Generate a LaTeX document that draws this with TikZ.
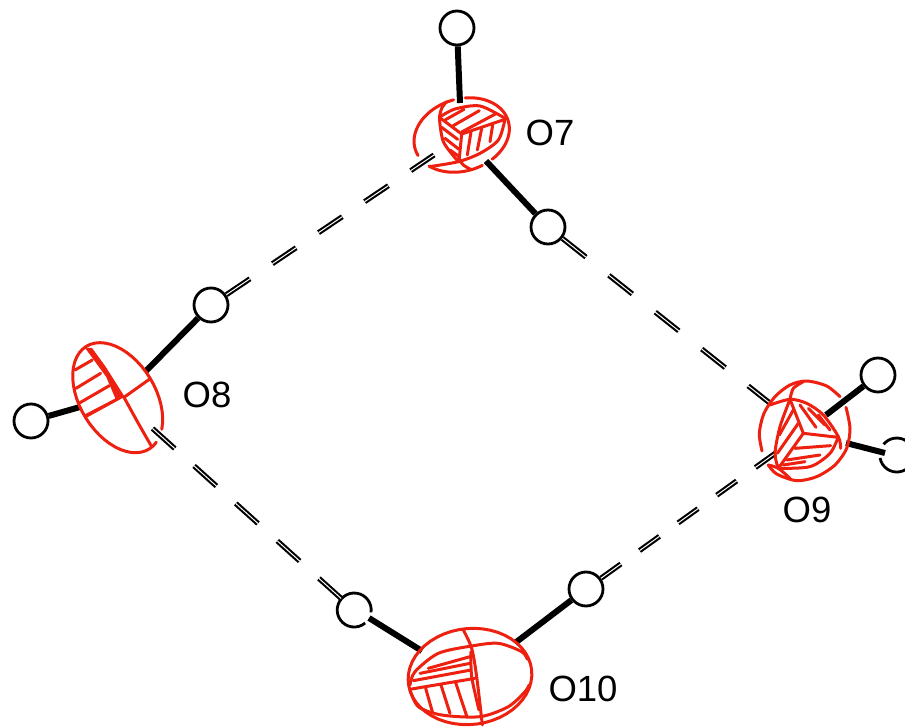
\documentclass[tikz,border=0pt]{standalone}
\usepackage{fontspec}
\setmainfont{Liberation Sans}
\definecolor{ored}{RGB}{238,32,16}
\tikzset{
  hatom/.style={circle,draw=black,line width=2.8pt,fill=white,minimum size=34pt,inner sep=0pt},
  hopen/.style={circle,minimum size=34pt,inner sep=0pt},
  bondline/.style={draw=black,line width=6pt},
  hbond/.style 2 args={draw=black,line width=2.1pt,double=white,double distance=1pt,dash pattern=on #1pt off #2pt},
  rl/.style={draw=ored,line width=3pt,line join=round,line cap=round},
  rthick/.style={fill=ored,draw=ored,line width=1pt,line join=round},
  label/.style={font=\fontsize{36.5}{37}\selectfont,inner sep=0pt,text=black},
  zoomed/.style={x=.33333pt,y=-.33333pt}
}
\newcommand{\redarc}[7]{\draw[rl,shift={(#1,#2)},rotate=#5] plot[domain=#6:#7,samples=50] ({#3*cos(\x)},{-#4*sin(\x)});}
\newcommand{\sm}[1]{\draw[rl] plot[smooth] coordinates {#1};}
\begin{document}
\begin{tikzpicture}[x=1pt,y=-1pt]
\useasboundingbox (0,0) rectangle (905,727);
\clip (0,0) rectangle (905,727);

% hydrogen atoms
\node[hatom] (H1) at (457,28) {};
\node[hatom] (H2) at (548,227) {};
\node[hatom] (H3) at (211,305) {};
\node[hatom] (H4) at (31,421) {};
\node[hatom] (H5) at (878,375) {};
\node[hopen] (H6) at (897,455) {};
\node[hopen] (H7) at (354,610) {};
\node[hatom] (H8) at (586,589) {};
\draw[black,line width=2.8pt] (H6.190) arc[start angle=190,end angle=501,radius=17pt];
\draw[black,line width=2.8pt] (H7.-8) arc[start angle=-8,end angle=310,radius=17pt];

% bond ends at the oxygen atoms
\coordinate (a1) at (460,103);
\coordinate (a2) at (486,161);
\coordinate (a3) at (145,372);
\coordinate (a4) at (80,407);
\coordinate (a5) at (826,415);
\coordinate (a6) at (846,443);
\coordinate (a7) at (422,651);
\coordinate (a8) at (515,643);
\coordinate (b6) at (885,453);
\coordinate (b7) at (369,618);
\coordinate (d3) at (434,155);
\coordinate (d2) at (771,404);
\coordinate (d7) at (152,428);
\coordinate (d8) at (777,452);

% covalent bonds
\draw[bondline] (H1) -- (a1);
\draw[bondline] (H2) -- (a2);
\draw[bondline] (H3) -- (a3);
\draw[bondline] (H4) -- (a4);
\draw[bondline] (H5) -- (a5);
\draw[bondline] (b6) -- (a6);
\draw[bondline] (b7) -- (a7);
\draw[bondline] (H8) -- (a8);

% hydrogen bonds
\draw[hbond={28.6}{27}] (H3) -- (d3);
\draw[hbond={30}{29.3}] (H2) -- (d2);
\draw[hbond={30}{26}] (H7) -- (d7);
\draw[hbond={24.5}{23}] (H8) -- (d8);

% O7
\redarc{461.7}{135}{48.6}{36}{17}{87}{191}
\redarc{461.7}{135}{48.6}{36}{17}{214}{283}
\redarc{461.7}{135}{48.6}{36}{17}{297}{433}
\begin{scope}[shift={(390,70)},zoomed]
\sm{(148,142) (195,117) (270,108) (345,145)}
\sm{(148,142) (160,215) (205,275)}
\sm{(345,148) (325,210) (270,250) (205,275) (118,290)}
\sm{(148,142) (155,115) (170,95)}
\sm{(205,265) (220,285) (242,298)}
\draw[rl] (148,142) -- (215,192) -- (345,148);
\draw[rl] (215,192) -- (207,275);
\draw[rl] (165,150) -- (222,118);
\draw[rl] (188,168) -- (268,122);
\draw[rl] (215,186) -- (318,131);
\draw[rl] (155,172) -- (203,208);
\draw[rl] (165,205) -- (207,238);
\draw[rl] (180,240) -- (205,258);
\draw[rl] (243,185) -- (232,255);
\draw[rl] (275,175) -- (262,240);
\draw[rl] (308,165) -- (300,215);
\end{scope}

% O8
\redarc{117.7}{397.7}{60.2}{37.8}{121.4}{214}{555}
\begin{scope}[shift={(50,320)},zoomed]
\fill[rthick] (108,85) -- (125,85) -- (165,140) -- (222,230) -- (107,293) -- (104,285) -- (198,236) -- (170,170) -- cycle;
\draw[rl] (222,232) -- (298,178);
\sm{(222,232) (265,310) (305,380)}
\draw[rl] (75,150) -- (127,120);
\draw[rl] (78,205) -- (152,160);
\draw[rl] (90,248) -- (178,197);
\end{scope}

% O9
\begin{scope}[shift={(740,350)},zoomed]
\sm{(300,140) (260,108) (200,93) (150,105) (105,140) (72,190) (58,250) (66,303)}
\sm{(85,345) (110,372) (170,392) (230,380) (285,345) (320,295) (330,235) (318,172)}
\sm{(90,165) (150,148) (200,160) (250,195) (295,260) (302,295)}
\sm{(150,148) (120,230) (105,310) (115,355)}
\sm{(295,260) (270,310) (210,350) (115,355)}
\sm{(150,148) (160,115) (190,95)}
\sm{(85,345) (115,355) (150,385)}
\draw[rl] (150,148) -- (190,250) -- (295,262);
\draw[rl] (190,250) -- (115,355);
\draw[rl] (180,165) -- (228,232);
\draw[rl] (205,175) -- (255,225);
\draw[rl] (235,195) -- (270,240);
\draw[rl] (160,180) -- (118,255);
\draw[rl] (175,220) -- (112,310);
\draw[rl] (165,295) -- (272,287);
\draw[rl] (140,330) -- (240,315);
\draw[rl] (130,345) -- (195,335);
\end{scope}

% O10
\redarc{470}{676.5}{62}{48}{6}{0}{360}
\begin{scope}[shift={(395,610)},zoomed]
\sm{(205,60) (230,115) (245,200) (262,345)}
\sm{(228,125) (230,200) (252,300)}
\sm{(45,225) (60,185) (130,130) (230,108) (310,100) (380,125) (397,148)}
\sm{(45,240) (70,290) (140,315) (255,320) (340,290) (390,245) (402,225)}
\draw[rl] (50,237) -- (240,205);
\draw[rl] (100,175) -- (225,140);
\draw[rl] (75,190) -- (225,160);
\draw[rl] (55,212) -- (228,180);
\draw[rl] (92,235) -- (112,305);
\draw[rl] (138,225) -- (165,310);
\draw[rl] (182,218) -- (215,318);
\end{scope}

% labels
\node[label] (L7) at (550,133) {O7};
\node[label] (L8) at (207,395) {O8};
\node[label] (L9) at (807,510) {O9};
\node[label] (L10) at (583,689) {O10};
\end{tikzpicture}
\end{document}
